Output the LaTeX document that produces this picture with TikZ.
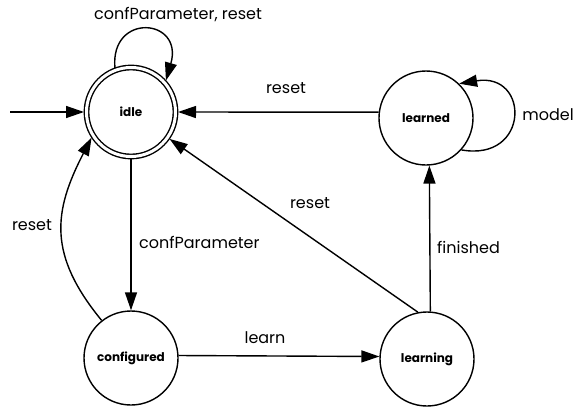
\documentclass[tikz,border=0pt]{standalone}
\usepackage{fontspec}
\setmainfont{Poppins}
\usetikzlibrary{arrows.meta}
\tikzset{
  state/.style={circle, draw, line width=1.4pt, minimum size=94pt, inner sep=0pt,
                font=\fontsize{12}{14}\selectfont\bfseries},
  accepting/.style={double, double distance=3pt, minimum size=89pt, outer sep=2.5pt},
  trans/.style={line width=1.4pt, -{Triangle[length=18pt,width=12pt]}},
  lbl/.style={font=\fontsize{16}{19}\selectfont, inner sep=0pt}
}
\begin{document}
\begin{tikzpicture}[x=1pt, y=-1pt]
  \useasboundingbox (0,0) rectangle (580,407);

  % states
  \node[state, accepting] (idle) at (131,112) {idle};
  \node[state] (learned) at (426,118) {learned};
  \node[state] (configured) at (131,358) {configured};
  \node[state] (learning) at (427,359) {learning};
  \coordinate (init) at (10,112);

  % transitions
  \draw[trans] (init) -- (idle.west);
  \draw[trans] (idle.110) .. controls (110,12) and (184,18) .. (idle.42);
  \draw[trans] (learned.-42) .. controls (530,162) and (530,72) .. (learned.46);
  \draw[trans] (learned.173) -- (idle.east);
  \draw[trans] (learning.101) -- (idle);
  \draw[trans] (idle.south) -- (configured.north);
  \draw[trans] (configured.128) .. controls (48,255) and (53,212) .. (idle.213);
  \draw[trans] (configured.3) -- (learning.177);
  \draw[trans] (learning.86) -- (learned.274);

  % labels
  \node[lbl] (l1) at (178,15) {confParameter, reset};
  \node[lbl] (l2) at (286,88) {reset};
  \node[lbl] (l3) at (548,115) {model};
  \node[lbl] (l4) at (310,203) {reset};
  \node[lbl] (l5) at (32,225) {reset};
  \node[lbl, anchor=west] (l6) at (139,242) {confParameter};
  \node[lbl, anchor=west] (l7) at (437,247) {finished};
  \node[lbl] (l8) at (265,338) {learn};
\end{tikzpicture}
\end{document}
